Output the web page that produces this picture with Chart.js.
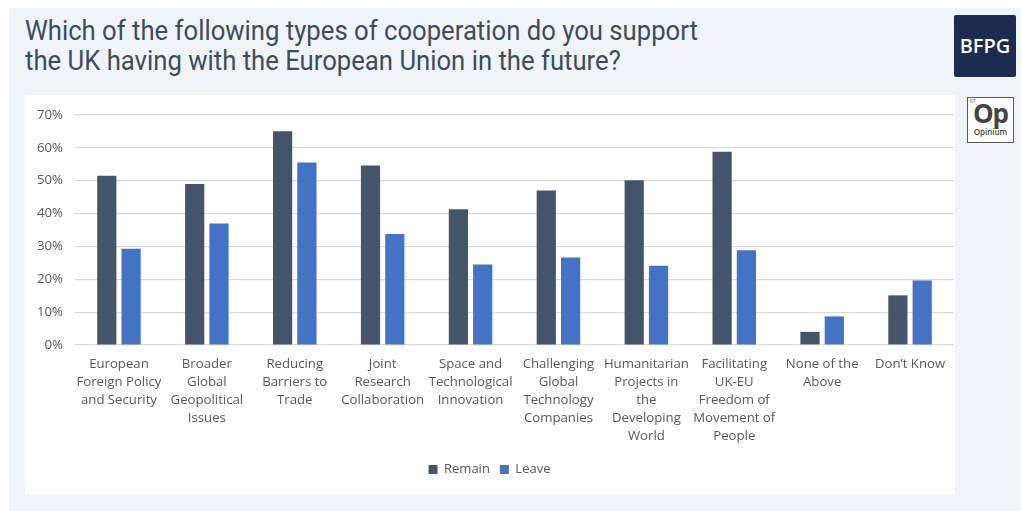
<!DOCTYPE html>
<html>
<head>
<meta charset="utf-8">
<script src="https://cdn.jsdelivr.net/npm/chart.js@4.4.1/dist/chart.umd.min.js"></script>
<style>
    body { margin: 0; background: #ffffff; width: 1021px; height: 511px; overflow: hidden; position: relative; font-family: 'Open Sans', sans-serif; }
    #panel { position: absolute; left: 9px; top: 8px; width: 1012px; height: 503px; background: #f0f4f8; }
    #title { position: absolute; left: 25px; top: 16px; font-family: Roboto, sans-serif; font-size: 27px; line-height: 30px; color: #3b4c5f; transform-origin: left top; white-space: nowrap; }
    #bfpg { position: absolute; left: 954px; top: 15px; width: 62px; height: 62px; background: #1c2b50; border-radius: 2px; color: #fff; font-family: 'Open Sans', sans-serif; font-weight: 600; font-size: 20px; line-height: 62px; text-align: center; }
    #opinium { position: absolute; left: 967px; top: 97px; width: 45px; height: 44px; border: 1.5px solid #5a5a5a; background: #fff; color: #444; text-align: center; }
    #opinium .num { position: absolute; left: 2px; top: 0px; font-size: 5px; }
    #opinium .op { font-family: 'Open Sans', sans-serif; font-weight: 700; font-size: 26px; line-height: 26px; margin-top: 2px; letter-spacing: -1px; }
    #opinium .name { font-family: 'Open Sans', sans-serif; font-weight: 600; font-size: 8px; line-height: 11px; }
    #chartBox { position: absolute; left: 25px; top: 95px; width: 930px; height: 399px; background: #ffffff; }
</style>
</head>
<body>
<div id="panel"></div>
<div id="title">Which of the following types of cooperation do you support<br>the UK having with the European Union in the future?</div>
<div id="bfpg">BFPG</div>
<div id="opinium"><span class="num">07</span><div class="op">Op</div><div class="name">Opinium</div></div>
<div id="chartBox"><canvas id="coopChart" width="930" height="399"></canvas></div>

<script>
const categories = [
    ['European', 'Foreign Policy', 'and Security'],
    ['Broader', 'Global', 'Geopolitical', 'Issues'],
    ['Reducing', 'Barriers to', 'Trade'],
    ['Joint', 'Research', 'Collaboration'],
    ['Space and', 'Technological', 'Innovation'],
    ['Challenging', 'Global', 'Technology', 'Companies'],
    ['Humanitarian', 'Projects in', 'the', 'Developing', 'World'],
    ['Facilitating', 'UK-EU', 'Freedom of', 'Movement of', 'People'],
    ['None of the', 'Above'],
    ['Don\u2019t Know']
];
const remainValues = [51.5, 49, 65, 54.6, 41.3, 47, 50.1, 58.8, 4, 15.1];
const leaveValues = [29.3, 37, 55.5, 33.8, 24.5, 26.6, 24.1, 28.8, 8.7, 19.6];
const yTicks = [0, 10, 20, 30, 40, 50, 60, 70];

// squeeze the heading to the narrow look of the original font
const titleEl = document.getElementById('title');
titleEl.style.transform = 'scaleX(' + (673 / titleEl.offsetWidth).toFixed(3) + ')';

const labelFont = { family: "'Open Sans', sans-serif", size: 13.2 };
const textColor = '#595959';

const context = document.getElementById('coopChart').getContext('2d');
const coopChart = new Chart(context, {
    type: 'bar',
    data: {
        labels: categories,
        datasets: [
            { label: 'Remain', data: remainValues, backgroundColor: '#44546a' },
            { label: 'Leave', data: leaveValues, backgroundColor: '#4472c4' }
        ]
    },
    options: {
        responsive: false,
        animation: false,
        categoryPercentage: 0.553,
        barPercentage: 0.79,
        layout: { padding: { top: 15, right: 1, left: 0, bottom: 8 } },
        plugins: {
            tooltip: { enabled: false },
            legend: {
                position: 'bottom',
                labels: { boxWidth: 9, boxHeight: 9, padding: 10, color: textColor, font: { family: labelFont.family, size: 13 } }
            }
        },
        scales: {
            x: {
                grid: { display: false },
                border: { display: false },
                ticks: { color: textColor, font: Object.assign({ lineHeight: 1.36 }, labelFont), maxRotation: 0, autoSkip: false, padding: 2 },
                afterFit: (scale) => { scale.height = 108; }
            },
            y: {
                min: 0,
                max: 70,
                afterBuildTicks: (scale) => { scale.ticks = yTicks.map(v => ({ value: v })); },
                grid: { color: '#d9d9d9', lineWidth: 1.2, drawTicks: false },
                border: { display: false },
                ticks: { color: textColor, font: labelFont, padding: 12, callback: (v) => v + '%' },
                afterFit: (scale) => { scale.width = 50; }
            }
        }
    }
});
</script>
</body>
</html>
